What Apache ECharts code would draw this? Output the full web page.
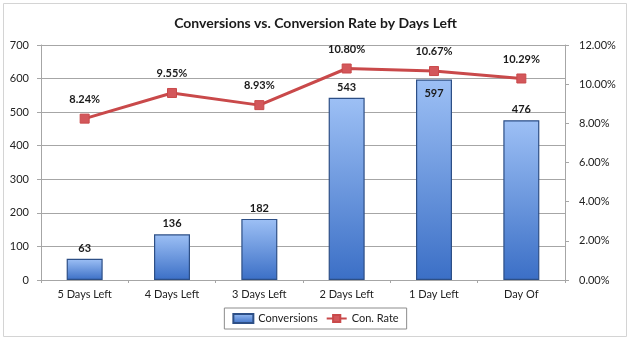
<!DOCTYPE html>
<html>
<head>
<meta charset="utf-8">
<script src="https://cdn.jsdelivr.net/npm/echarts@6/dist/echarts.min.js"></script>
<style>
  html, body { margin: 0; padding: 0; background: #ffffff; }
  #chart { width: 631px; height: 341px; }
</style>
</head>
<body>
<div id="chart"></div>
<script>
// Days-left buckets with conversion counts and conversion rates (%)
const categories = ['5 Days Left', '4 Days Left', '3 Days Left', '2 Days Left', '1 Day Left', 'Day Of'];
const conversions = [63, 136, 182, 543, 597, 476];
const conversionRate = [8.24, 9.55, 8.93, 10.80, 10.67, 10.29];

const FONT = 'Lato, "Open Sans", sans-serif';

const chart = echarts.init(document.getElementById('chart'));

const barFill = new echarts.graphic.LinearGradient(0, 0, 0, 1, [
  { offset: 0, color: '#9dc0f5' },
  { offset: 1, color: '#3b6fc6' }
]);

chart.setOption({
  backgroundColor: '#ffffff',
  animation: false,
  title: {
    text: 'Conversions vs. Conversion Rate by Days Left',
    left: 'center',
    top: 11,
    textStyle: { fontFamily: FONT, fontSize: 14, fontWeight: 'bold', color: '#1a1a1a' }
  },
  graphic: [{
    type: 'rect',
    shape: { x: 3.5, y: 3.5, width: 623, height: 333 },
    style: { fill: 'none', stroke: '#d4d4d4', lineWidth: 1 },
    silent: true,
    z: -1
  }],
  legend: {
    bottom: 12,
    left: 'center',
    itemGap: 8,
    itemWidth: 20,
    itemHeight: 9,
    padding: [5, 8],
    borderColor: '#8c8c8c',
    borderWidth: 1,
    textStyle: { fontFamily: FONT, fontSize: 11, color: '#222' },
    data: [
      { name: 'Conversions', icon: 'rect' },
      { name: 'Con. Rate' }
    ]
  },
  grid: { left: 41, right: 66, top: 45, bottom: 61 },
  xAxis: {
    type: 'category',
    data: categories,
    axisLine: { lineStyle: { color: '#a6a6a6' } },
    axisTick: { show: true, length: 3, lineStyle: { color: '#a6a6a6' } },
    axisLabel: { fontFamily: FONT, fontSize: 11, color: '#222', margin: 9 }
  },
  yAxis: [
    {
      type: 'value',
      min: 0, max: 700, interval: 100,
      axisLine: { show: true, lineStyle: { color: '#a6a6a6' } },
      axisTick: { show: true, length: 4, lineStyle: { color: '#a6a6a6' } },
      axisLabel: { fontFamily: FONT, fontSize: 11, color: '#222', margin: 12 },
      splitLine: { lineStyle: { color: '#a6a6a6', width: 1 } }
    },
    {
      type: 'value',
      min: 0, max: 12, interval: 2,
      axisLine: { show: true, lineStyle: { color: '#a6a6a6' } },
      axisTick: { show: true, length: 4, lineStyle: { color: '#a6a6a6' } },
      axisLabel: {
        fontFamily: FONT, fontSize: 11, color: '#222', margin: 14,
        formatter: v => v.toFixed(2) + '%'
      },
      splitLine: { show: false }
    }
  ],
  series: [
    {
      name: 'Conversions',
      type: 'bar',
      data: conversions.map((v, i) => ({
        value: v,
        label: { position: i === 4 ? 'insideTop' : 'top', distance: i === 4 ? 8 : 5 }
      })),
      barWidth: 36,
      itemStyle: { color: barFill, borderColor: '#2d4f86', borderWidth: 1.2 },
      label: {
        show: true,
        fontFamily: FONT, fontSize: 11, fontWeight: 'bold', color: '#1a1a1a'
      }
    },
    {
      name: 'Con. Rate',
      type: 'line',
      yAxisIndex: 1,
      data: conversionRate,
      symbol: 'rect',
      symbolSize: 9,
      lineStyle: { color: '#c9494a', width: 3 },
      itemStyle: { color: '#d3575b', borderColor: '#c9494a', borderWidth: 1 },
      label: {
        show: true,
        position: 'top',
        distance: 9,
        formatter: p => p.value.toFixed(2) + '%',
        fontFamily: FONT, fontSize: 11, fontWeight: 'bold', color: '#1a1a1a'
      },
      z: 5
    }
  ]
});
</script>
</body>
</html>
